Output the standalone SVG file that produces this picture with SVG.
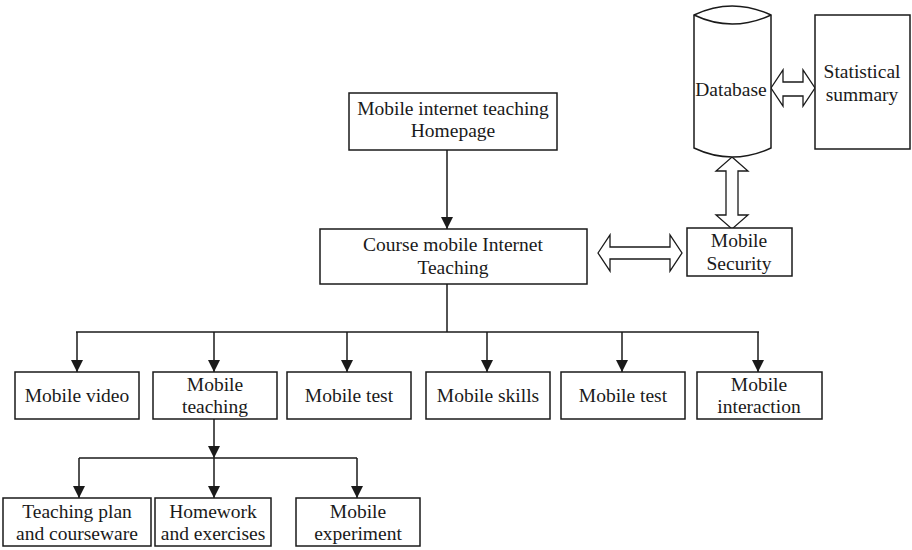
<svg xmlns="http://www.w3.org/2000/svg" width="912" height="550" viewBox="0 0 912 550">
<style>
.b{fill:#fff;stroke:#1a1a1a;stroke-width:1.5}
.t{font-family:"Liberation Serif","Times New Roman",serif;font-size:19.5px;fill:#1a1a1a;text-anchor:middle}
.c{fill:none;stroke:#1a1a1a;stroke-width:1.5}
.d{fill:#fff;stroke:#1a1a1a;stroke-width:1.3}
</style>
<defs>
<marker id="ah" viewBox="0 0 12 12" refX="12" refY="6" markerWidth="12" markerHeight="12" markerUnits="userSpaceOnUse" orient="auto">
<path d="M0,0 L12,6 L0,12 Z" fill="#1a1a1a"/>
</marker>
</defs>
<rect width="912" height="550" fill="#fff"/>
<g id="connectors">
<line class="c" x1="447" y1="150" x2="447" y2="229" marker-end="url(#ah)"/>
<line class="c" x1="447" y1="284" x2="447" y2="332"/>
<line class="c" x1="76" y1="332" x2="759" y2="332"/>
<line class="c" x1="77" y1="332" x2="77" y2="372" marker-end="url(#ah)"/>
<line class="c" x1="214" y1="332" x2="214" y2="372" marker-end="url(#ah)"/>
<line class="c" x1="347" y1="332" x2="347" y2="372" marker-end="url(#ah)"/>
<line class="c" x1="487" y1="332" x2="487" y2="372" marker-end="url(#ah)"/>
<line class="c" x1="622" y1="332" x2="622" y2="372" marker-end="url(#ah)"/>
<line class="c" x1="758" y1="332" x2="758" y2="372" marker-end="url(#ah)"/>
<line class="c" x1="214" y1="419" x2="214" y2="458" marker-end="url(#ah)"/>
<line class="c" x1="79" y1="458" x2="357" y2="458"/>
<line class="c" x1="79" y1="458" x2="79" y2="498" marker-end="url(#ah)"/>
<line class="c" x1="214" y1="458" x2="214" y2="498" marker-end="url(#ah)"/>
<line class="c" x1="357" y1="458" x2="357" y2="498" marker-end="url(#ah)"/>
<path class="d" d="M598,253 L610,235 L610,247 L670,247 L670,235 L682,253 L670,271 L670,259 L610,259 L610,271 Z"/>
<path class="d" d="M771,88 L783,70 L783,82 L803,82 L803,70 L815,88 L803,106 L803,96 L783,96 L783,106 Z"/>
<path class="d" d="M732,157 L748,171 L738,171 L738,215 L748,215 L732,229 L716,215 L726,215 L726,171 L716,171 Z"/>
</g>
<g id="homepage">
<rect class="b" x="349" y="93" width="208" height="57"/>
<text class="t" x="453" y="115">Mobile internet teaching</text>
<text class="t" x="453" y="137">Homepage</text>
</g>
<g id="course">
<rect class="b" x="320" y="229" width="267" height="55"/>
<text class="t" x="453" y="251">Course mobile Internet</text>
<text class="t" x="453" y="274">Teaching</text>
</g>
<g id="database">
<path class="b" d="M694,15 Q732,-3 771,15 L771,148 Q732,166 694,148 Z"/>
<path class="c" d="M694,15 Q732,33 771,15"/>
<text class="t" x="731" y="96">Database</text>
</g>
<g id="statistical">
<rect class="b" x="815" y="15" width="95" height="134"/>
<text class="t" x="862" y="78">Statistical</text>
<text class="t" x="862" y="101">summary</text>
</g>
<g id="security">
<rect class="b" x="687" y="228" width="105" height="48"/>
<text class="t" x="739" y="247">Mobile</text>
<text class="t" x="739" y="270">Security</text>
</g>
<g id="video">
<rect class="b" x="15" y="372" width="124" height="47"/>
<text class="t" x="77" y="402">Mobile video</text>
</g>
<g id="teaching">
<rect class="b" x="153" y="372" width="124" height="47"/>
<text class="t" x="215" y="391">Mobile</text>
<text class="t" x="215" y="413">teaching</text>
</g>
<g id="test1">
<rect class="b" x="287" y="372" width="124" height="47"/>
<text class="t" x="349" y="402">Mobile test</text>
</g>
<g id="skills">
<rect class="b" x="426" y="372" width="124" height="47"/>
<text class="t" x="488" y="402">Mobile skills</text>
</g>
<g id="test2">
<rect class="b" x="561" y="372" width="124" height="47"/>
<text class="t" x="623" y="402">Mobile test</text>
</g>
<g id="interaction">
<rect class="b" x="697" y="372" width="125" height="47"/>
<text class="t" x="759" y="391">Mobile</text>
<text class="t" x="759" y="413">interaction</text>
</g>
<g id="plan">
<rect class="b" x="3" y="498" width="148" height="48"/>
<text class="t" x="77" y="518">Teaching plan</text>
<text class="t" x="77" y="540">and courseware</text>
</g>
<g id="homework">
<rect class="b" x="155" y="498" width="116" height="48"/>
<text class="t" x="213" y="518">Homework</text>
<text class="t" x="213" y="540">and exercises</text>
</g>
<g id="experiment">
<rect class="b" x="296" y="498" width="124" height="48"/>
<text class="t" x="358" y="518">Mobile</text>
<text class="t" x="358" y="540">experiment</text>
</g>
</svg>
